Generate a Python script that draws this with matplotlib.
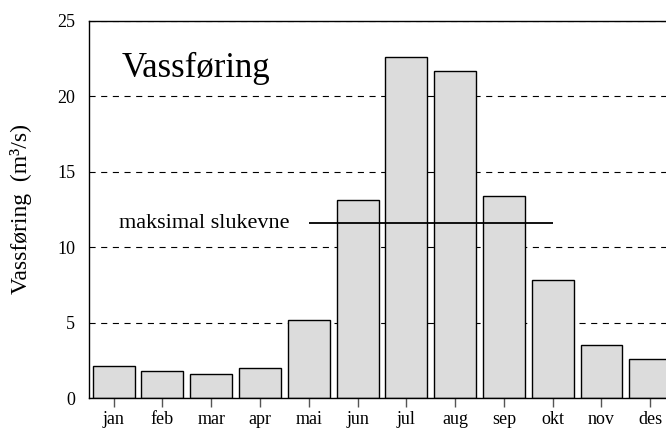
import numpy as np
import matplotlib
matplotlib.use("Agg")
import matplotlib.pyplot as plt

# monthly discharge (m3/s)
months = ["jan", "feb", "mar", "apr", "mai", "jun",
          "jul", "aug", "sep", "okt", "nov", "des"]
flow = [2.1, 1.8, 1.6, 2.0, 5.2, 13.1, 22.6, 21.7, 13.4, 7.8, 3.5, 2.6]
capacity = 11.6
capacity_from, capacity_to = 4, 9

plt.rcParams["font.family"] = ["Liberation Serif", "DejaVu Serif"]

fig = plt.figure(figsize=(6.66, 4.32), dpi=100)
ax = fig.add_axes([0.134, 0.0787, 0.879, 0.8727])

x = np.arange(len(months))
ax.set_axisbelow(True)
ax.yaxis.grid(True, color="black", linestyle=(0, (5.5, 5)), linewidth=0.8)
ax.bar(x, flow, width=0.86, color="#dcdcdc", edgecolor="black", linewidth=1.0, zorder=2)
ax.hlines(capacity, capacity_from, capacity_to, color="black", linewidth=1.3, zorder=3)

ax.text(0.1, capacity, "maksimal slukevne", fontsize=16, va="center", ha="left")
ax.text(0.17, 21.3, "Vassføring", fontsize=25, va="baseline", ha="left")

ax.set_xlim(-0.5, 11.5)
ax.set_ylim(0, 25)
ax.set_yticks([0, 5, 10, 15, 20, 25])
ax.set_xticks(x)
ax.set_xticklabels(months)
ax.tick_params(axis="y", length=0, pad=10, labelsize=13)
ax.tick_params(axis="x", length=6.5, width=1, color="#555555", pad=3, labelsize=13)
ax.set_ylabel("Vassføring  (m³/s)", fontsize=17)
ax.yaxis.set_label_coords(-0.097, 0.5)

for side in ["top", "left", "bottom", "right"]:
    ax.spines[side].set_linewidth(1.0)

fig.savefig("out.png", dpi=100)
